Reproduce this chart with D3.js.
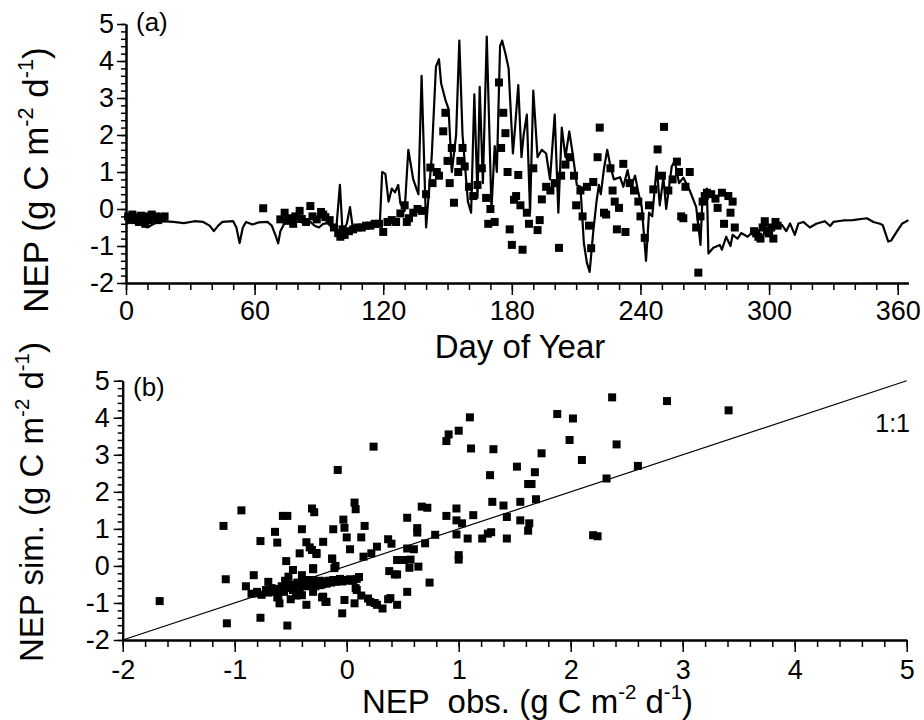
<!DOCTYPE html>
<html>
<head>
<meta charset="utf-8">
<script src="https://cdn.jsdelivr.net/npm/d3@7"></script>
<style>
body { margin: 0; background: #fff; }
text { font-family: "Liberation Sans", Arial, sans-serif; fill: #000; }
</style>
</head>
<body>
<div id="chart"></div>
<script>
// (a) simulated NEP, vertices
const simDay = [0, 3, 6, 10, 13, 17, 22, 27, 32, 36, 39, 41, 43, 45, 50, 51.5, 53, 54.5, 56, 59, 62, 66, 68, 70, 71, 72, 74, 77, 81, 84, 86, 88, 90, 92, 94, 96, 98,
	99.8, 101, 103, 104.5, 106, 109, 112, 116, 118.5, 119.5, 121, 122.5, 124, 125.5, 127, 128, 130, 131.7, 134, 136.4, 137.9, 140, 142.6, 144.6, 146, 147, 149, 150.5,
	152, 154, 155.5, 157, 159.5, 161, 162.5, 164, 165, 166.5, 168.3, 170.5, 172, 173, 174.5, 175.5, 177, 178.5, 179, 180.5, 181.5, 183, 184.5, 185.5, 187, 188.5,
	190, 192, 194, 196, 197.8, 200, 201.7, 203.3, 205, 206.8, 208.5, 210.3, 212, 213.6, 215, 216.3, 218, 219.5, 220.6, 221.5, 223, 224.5, 226, 227.6, 230.5, 232,
	234, 235.5, 237.5, 239, 240.6, 241.5, 242.6, 244, 245.5, 247.6, 249, 250.7, 252, 254.6, 256, 258, 260, 263, 266, 267.4, 268, 269, 271, 271.7, 274, 277, 278,
	280, 282, 283, 285.3, 287, 290, 292.7, 295, 299, 302.6, 306, 308, 309.8, 312, 313.7, 316, 319, 322, 326, 328.5, 330, 334.6, 339, 345.6, 348.7, 351.7, 353,
	355.6, 357, 359.5, 362, 365];
const simNep = [-0.4, -0.35, -0.38, -0.5, -0.4, -0.33, -0.35, -0.38, -0.33, -0.35, -0.45, -0.6, -0.45, -0.35, -0.33, -0.5, -0.92, -0.5, -0.35, -0.42, -0.36, -0.35, -0.45, -0.75, -0.93, -0.6, -0.38, -0.33, -0.35, -0.38, -0.35, -0.45, -0.5, -0.4, -0.38, -0.5, -0.6,
	0.65, -0.6, -0.4, 0.05, -0.6, -0.5, -0.45, -0.4, -0.3, 1.0, 0.95, 0.2, 0.55, 0.45, 0.65, 0.15, -0.05, 1.6, 0.8, 0.4, 3.6, -0.5, 1.4, 3.85, 4.05, 3.4, 2.95, 2.7,
	1.0, 2.0, 4.55, 2.0, 0.2, -0.1, 3.1, 0.3, 3.3, 0.7, 4.66, 0.0, 1.7, 1.0, 4.4, 4.55, 4.2, 3.8, 3.2, 1.5, 2.2, 3.35, 1.4, 2.0, 2.55, -0.1,
	3.2, 1.4, 1.6, 1.5, 0.8, 2.55, -0.1, 2.2, 1.4, 2.1, 1.45, 0.65, 0.6, -0.92, -1.45, -1.7, -0.6, 0.2, 0.65, 0.4, 1.1, 1.6, 1.15, 0.8, 0.86, 0.6,
	1.05, 0.6, 0.9, 0.45, 0.05, -0.6, -1.4, -0.1, -0.2, 1.15, 0.1, 0.85, 0.0, 1.15, 1.3, 0.7, 0.85, 0.5, 0.05, -0.65, -0.97, 0.4, 0.55, -1.2, -1.05, -0.97, -1.1,
	-0.75, -1.0, -0.7, -0.8, -0.65, -0.75, -0.6, -0.58, -0.43, -0.5, -0.43, -0.6, -0.39, -0.7, -0.39, -0.35, -0.5, -0.4, -0.33, -0.46, -0.35, -0.31, -0.3, -0.25, -0.35, -0.4, -0.43,
	-0.88, -0.85, -0.62, -0.4, -0.3];

// (a) observed NEP
const obsDay = [1, 2, 3, 4, 5, 6, 7, 8, 9, 10, 11, 12, 13, 14, 15, 16, 17, 18, 64,
	72, 74, 75, 76, 78, 79, 81, 82, 84, 86, 87, 89, 91, 92, 93, 95, 97, 99, 100, 101, 102, 104, 106, 108, 110, 112, 114, 116, 118, 120, 122, 124, 126, 128, 130,
	131, 132, 134, 136, 138, 140, 142, 143, 145, 146, 148, 149, 150, 151, 152, 153, 155, 156, 157, 158, 160, 162, 164, 166, 168, 169, 170, 172, 174, 175, 176, 177,
	178, 179, 180, 181, 182, 183, 184, 185, 187, 188, 190, 192, 193, 194, 196, 198, 200, 202, 203, 205, 207, 209, 210, 212, 213, 215, 216, 217, 218, 220, 221, 223,
	224, 226, 227, 228, 229, 230, 232, 233, 235, 237, 239, 240, 242, 244, 246, 248, 250, 251, 253, 255, 257, 258, 259, 260, 261, 263, 266, 267, 268, 269, 270, 271,
	273, 275, 276, 278, 279, 281, 282, 283, 284, 293, 294, 295, 296, 297, 298, 299, 300, 301, 302, 303, 304];
const obsNep = [-0.2, -0.28, -0.15, -0.3, -0.22, -0.35, -0.18, -0.25, -0.4, -0.2, -0.3, -0.15, -0.25, -0.2, -0.3, -0.22, -0.25, -0.2, 0.02,
	-0.28, -0.1, -0.32, -0.25, -0.4, -0.2, -0.05, -0.27, -0.35, 0.08, -0.2, -0.28, -0.08, -0.15, -0.22, -0.3, -0.5, -0.65, -0.75, -0.55, -0.7, -0.6, -0.55, -0.5, -0.5, -0.45, -0.45, -0.4, -0.4, -0.62, -0.35, -0.3, -0.35, -0.12, 0.1,
	-0.35, -0.25, -0.1, 0.0, -0.05, 0.4, 1.12, 0.7, 1.0, 0.9, 2.1, 2.6, 1.3, 0.7, 1.65, 0.17, 1.0, 1.3, 1.65, 1.15, 0.6, 0.35, 0.65, 1.1, 0.3, -0.4, 0.0, -0.35, 3.42, 1.65, 2.6, 2.05,
	1.0, -0.55, -0.97, 0.25, 0.35, 0.92, 0.1, -1.1, -0.1, -0.4, 1.1, -0.57, -0.3, 0.26, 0.6, 0.5, 0.7, -1.05, 0.9, 1.2, 1.4, 0.9, 0.1, 0.5, -0.2, 0.6, -0.45, -1.06, 0.73, 1.4, 2.2, -0.1,
	-0.15, 1.1, 0.5, 0.2, -0.55, 0.03, 1.22, -0.62, 0.7, 0.5, 0.2, -0.2, -0.78, 0.1, 0.53, 1.61, 0.9, 2.22, 0.5, 0.8, 1.28, 1.0, -0.2, -0.25, 0.6, 1.0, -0.5, -1.72, -0.2, 0.2, 0.35, 0.44,
	0.4, 0.28, 0.03, 0.44, -0.4, 0.35, -0.1, 0.2, -0.5, -0.6, -0.66, -0.75, -0.8, -0.5, -0.33, -0.6, -0.66, -0.5, -0.8, -0.35, -0.45];

// (b) observed vs simulated NEP
const scatObs = [-1.67, -1.1, -0.94, -1.08, -1.07, -0.83, -0.77, -0.77, -0.8, -0.7, -0.64, -0.62, -0.57, -0.53, -0.54, -0.53, -0.6, -0.66, -0.61, -0.57,
	-0.52, -0.48, -0.4, -0.42, -0.45, -0.37, -0.36, -0.31, -0.29, -0.36, -0.33, -0.27, -0.3, -0.34, -0.24, -0.21, -0.13, -0.12, -0.21, -0.18,
	-0.11, -0.04, -0.03, -0.02, -0.02, 0.0, 0.03, 0.07, 0.08, 0.07, 0.09, 0.13, 0.13, 0.16, 0.15, 0.21, 0.22, 0.27, 0.27, 0.32,
	0.37, 0.4, 0.38, 0.45, 0.39, 0.45, 0.45, 0.51, 0.54, 0.57, 0.56, 0.54, 0.54, 0.6, 0.63, 0.63, 0.64, 0.7, 0.67, 0.72,
	0.74, 0.79, 0.89, -0.08, 0.24, 0.89, 0.91, 1.0, 1.1, 1.11, 0.98, 0.98, 1.03, 0.98, 1.0, 1.0, 1.08, 1.13, 1.21, 1.26,
	1.29, 1.28, 1.3, 1.31, 1.4, 1.43, 1.43, 1.52, 1.55, 1.55, 1.62, 1.65, 1.63, 1.62, 1.68, 1.69, 1.74, 1.88, 2.02, 1.99,
	2.1, 2.2, 2.24, 2.32, 2.37, 2.41, 2.6, 2.86, 3.41,
	-0.4, -0.19, -0.22, 0.08, 0.19, 0.25, 0.37, 0.43, -0.13, -0.1, -0.31, -0.27, -0.3,
	-0.85, -0.8, -0.76, -0.72, -0.7, -0.67, -0.64, -0.6, -0.58, -0.56, -0.53, -0.5, -0.48, -0.46, -0.44, -0.42, -0.4, -0.38, -0.36, -0.34,
	-0.32, -0.3, -0.28, -0.26, -0.24, -0.22, -0.2, -0.18, -0.16, -0.14, -0.12, -0.1, -0.08, -0.06, -0.04, -0.02, 0.0, 0.03, 0.06, 0.09,
	0.11, -0.9, -0.62, -0.45, -0.55, -0.4, -0.5, -0.3];
const scatSim = [-0.95, 1.08, 1.5, -0.36, -1.55, -0.25, 0.67, -1.4, -0.74, -0.43, 0.92, 0.63, 1.35, 1.35, 0.13, -1.61, -1.01, -0.65, -0.83, -0.65,
	-0.29, -0.11, 0.99, 0.34, -0.74, -0.38, -1.05, 1.55, 1.45, 0.64, 0.5, 0.32, -0.06, -0.53, -0.52, 0.65, 0.19, 0.99, -0.83, -0.97,
	-0.06, -1.28, 1.25, 1.03, -0.92, 0.77, 0.45, 1.71, 1.53, -1.01, -0.65, 0.77, -0.8, 1.08, 0.25, -0.97, 0.34, 0.52, -1.05, -1.15,
	0.72, 0.6, -0.14, -1.05, -0.87, -0.23, 0.16, 0.16, -0.7, 0.17, -0.05, 0.47, 1.3, 0.45, 1.02, 0.9, -0.02, 0.61, 1.6, 1.57,
	-0.45, 0.84, 1.35, 2.59, 3.22, 3.37, 3.55, 3.65, 4.01, 3.17, 1.55, 1.23, 1.15, 0.85, 0.29, 0.17, 0.74, 1.37, 0.74, 0.87,
	0.91, 2.45, 1.73, 3.15, 1.63, 1.32, 0.74, 2.68, 1.73, 1.23, 2.21, 2.21, 1.15, 0.95, 2.53, 1.8, 3.04, 4.1, 3.98, 3.4,
	2.86, 0.83, 0.8, 2.36, 4.55, 3.28, 2.7, 4.45, 4.2,
	-0.79, -0.97, -0.85, -0.6, -0.88, -1.0, -0.9, -0.23, 0.2, 0.0, 0.43, 0.35, -0.09,
	-0.75, -0.7, -0.78, -0.65, -0.72, -0.6, -0.7, -0.62, -0.55, -0.7, -0.6, -0.5, -0.65, -0.55, -0.45, -0.6, -0.5, -0.4, -0.55, -0.45,
	-0.5, -0.38, -0.55, -0.45, -0.4, -0.5, -0.42, -0.48, -0.4, -0.45, -0.38, -0.43, -0.4, -0.35, -0.42, -0.38, -0.4, -0.36, -0.4, -0.35,
	-0.3, -0.55, -0.85, -0.8, -0.4, -0.25, -0.9, -0.7];

const dayTicks = [0, 60, 120, 180, 240, 300, 360];
const nepTicks = [-2, -1, 0, 1, 2, 3, 4, 5];

const width = 924, height = 720;
const svg = d3.select("#chart").append("svg")
	.attr("width", width)
	.attr("height", height);

const xa = d3.scaleLinear().domain([0, 365]).range([126, 908.4]);
const ya = d3.scaleLinear().domain([-2, 5]).range([283, 24]);
const xb = d3.scaleLinear().domain([-2, 5]).range([122.7, 906.7]);
const yb = d3.scaleLinear().domain([-2, 5]).range([640, 380.7]);

// plain hyphen minus, as in the original figure
const fmt = (d) => String(d);

function styleAxis(g) {
	g.select(".domain").attr("stroke-width", 2);
	g.selectAll(".tick line").attr("stroke-width", 1.5);
	g.selectAll(".tick text").attr("font-size", 27).attr("font-family", "Liberation Sans, Arial, sans-serif");
}

function bottomAxis(x, yPos, major, minor, pad) {
	svg.append("g")
		.attr("transform", "translate(0," + yPos + ")")
		.call(d3.axisBottom(x).tickValues(minor).tickSize(7).tickSizeOuter(0).tickFormat(""))
		.call(styleAxis);
	svg.append("g")
		.attr("transform", "translate(0," + yPos + ")")
		.call(d3.axisBottom(x).tickValues(major).tickSize(12).tickSizeOuter(0).tickPadding(pad).tickFormat(fmt))
		.call(styleAxis);
}

function leftAxis(y, xPos, major, minor, pad) {
	svg.append("g")
		.attr("transform", "translate(" + xPos + ",0)")
		.call(d3.axisLeft(y).tickValues(minor).tickSize(5).tickSizeOuter(0).tickFormat(""))
		.call(styleAxis);
	svg.append("g")
		.attr("transform", "translate(" + xPos + ",0)")
		.call(d3.axisLeft(y).tickValues(major).tickSize(9).tickSizeOuter(0).tickPadding(pad).tickFormat(fmt))
		.call(styleAxis);
}

function addUnits(text, lead, fs) {
	text.append("tspan").text(lead + "(g C m");
	text.append("tspan").attr("dy", -0.42 * fs).attr("font-size", 0.62 * fs).text("-2");
	text.append("tspan").attr("dy", 0.42 * fs).text(" d");
	text.append("tspan").attr("dy", -0.42 * fs).attr("font-size", 0.62 * fs).text("-1");
	text.append("tspan").attr("dy", 0.42 * fs).text(")");
}

const minorDays = d3.range(0, 366, 10);
const minorNep = d3.range(-2, 5.001, 0.2);

// ---- panel (a)
bottomAxis(xa, ya(-2), dayTicks, minorDays, 6);
leftAxis(ya, xa(0), nepTicks, minorNep, 3);

const line = d3.line()
	.x((d, i) => xa(simDay[i]))
	.y((d, i) => ya(simNep[i]));

svg.append("path")
	.attr("d", line(simDay))
	.attr("fill", "none")
	.attr("stroke", "#000")
	.attr("stroke-width", 2.2)
	.attr("stroke-linejoin", "round");

const sq = 8;
svg.append("g").selectAll("rect")
	.data(obsDay)
	.enter().append("rect")
	.attr("x", (d) => xa(d) - sq / 2)
	.attr("y", (d, i) => ya(obsNep[i]) - sq / 2)
	.attr("width", sq)
	.attr("height", sq)
	.attr("fill", "#000");

svg.append("text").attr("x", 136).attr("y", 31).attr("font-size", 26).text("(a)");

svg.append("text")
	.attr("x", 520).attr("y", 358)
	.attr("text-anchor", "middle")
	.attr("font-size", 33)
	.text("Day of Year");

const ta = svg.append("text")
	.attr("transform", "translate(48,180) rotate(-90)")
	.attr("text-anchor", "middle")
	.attr("font-size", 35);
addUnits(ta, "NEP ", 35);

// ---- panel (b)
bottomAxis(xb, yb(-2), nepTicks, minorNep, 8);
leftAxis(yb, xb(-2), nepTicks, minorNep, 4);

svg.append("line")
	.attr("x1", xb(-2)).attr("y1", yb(-2))
	.attr("x2", xb(5)).attr("y2", yb(5))
	.attr("stroke", "#000")
	.attr("stroke-width", 1.2);

svg.append("g").selectAll("rect")
	.data(scatObs)
	.enter().append("rect")
	.attr("x", (d) => xb(d) - sq / 2)
	.attr("y", (d, i) => yb(scatSim[i]) - sq / 2)
	.attr("width", sq)
	.attr("height", sq)
	.attr("fill", "#000");

svg.append("text").attr("x", 133).attr("y", 396).attr("font-size", 26).text("(b)");
svg.append("text").attr("x", 910).attr("y", 432).attr("text-anchor", "end").attr("font-size", 25).text("1:1");

const tb = svg.append("text")
	.attr("transform", "translate(43,502) rotate(-90)")
	.attr("text-anchor", "middle")
	.attr("font-size", 33);
addUnits(tb, "NEP sim. ", 33);

const tx = svg.append("text")
	.attr("x", 362).attr("y", 713)
	.attr("font-size", 33)
	.style("white-space", "pre");
addUnits(tx, "NEP  obs. ", 33);
</script>
</body>
</html>
